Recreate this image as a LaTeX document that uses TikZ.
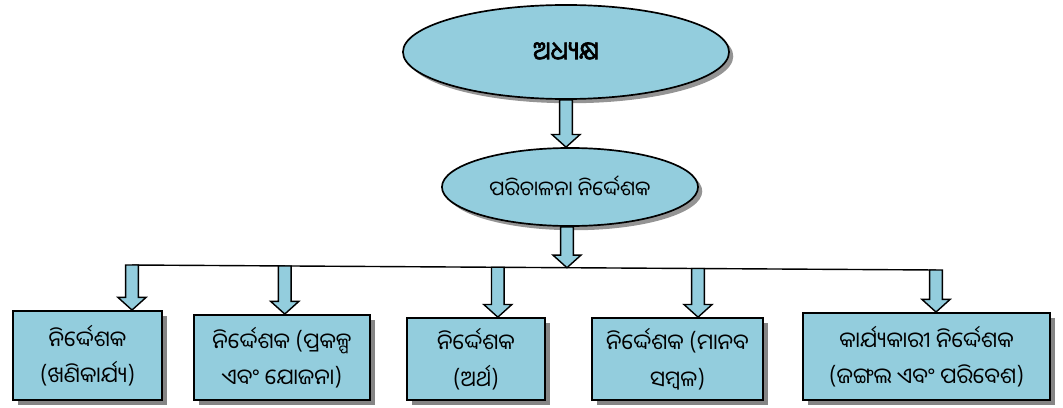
\documentclass[tikz,border=0pt]{standalone}
\usepackage{fontspec}
\usetikzlibrary{shapes.geometric,shadows,calc}

\newfontfamily\odia[Script=Oriya]{Noto Sans Oriya UI}
\newfontfamily\odiabf[Script=Oriya,FakeBold=2.5]{Noto Sans Oriya UI}
\definecolor{boxblue}{RGB}{147,205,221}

\tikzset{
  oval/.style={ellipse, draw, line width=1.2pt, fill=boxblue,
    drop shadow={shadow xshift=3pt, shadow yshift=-3pt, fill=black!60, opacity=0.7},
    font=\odia\fontsize{14.5}{26}\selectfont},
  office/.style={rectangle, draw, line width=1.2pt, fill=boxblue, align=center,
    drop shadow={shadow xshift=3.5pt, shadow yshift=-3.5pt, fill=black!60, opacity=0.8},
    font=\odia\fontsize{15.5}{26}\selectfont},
  fatarrow/.style={draw, line width=1pt, fill=boxblue}
}

% vertical block arrow from #1 down to the height of #2
\newcommand{\blockarrow}[2]{%
  \draw[fatarrow] let \p1=(#1), \p2=(#2) in
    (\x1-4.5pt,\y1) -- (\x1-4.5pt,\y2+9pt) -- (\x1-10pt,\y2+9pt) -- (\x1,\y2)
    -- (\x1+10pt,\y2+9pt) -- (\x1+4.5pt,\y2+9pt) -- (\x1+4.5pt,\y1) -- cycle;}

\begin{document}
\begin{tikzpicture}[x=0.025cm, y=-0.025cm]
  \useasboundingbox (0,0) rectangle (1063,407);

  % Chief and managing director
  \node[oval, minimum width=8.15cm, minimum height=2.35cm,
        font=\odiabf\fontsize{18}{24}\selectfont] (chief) at (566,52) {ଅଧ୍ୟକ୍ଷ};
  \node[oval, minimum width=6.4cm, minimum height=1.95cm] (md) at (570,187) {ପରିଚାଳନା ନିର୍ଦ୍ଦେଶକ};

  % Directors row
  \node[office, minimum width=3.73cm, minimum height=2.23cm] (mining) at (87.5,355.5) {ନିର୍ଦ୍ଦେଶକ\\(ଖଣିକାର୍ଯ୍ୟ)};
  \node[office, minimum width=4.4cm, minimum height=2.13cm] (plan) at (282,357.5) {ନିର୍ଦ୍ଦେଶକ (ପ୍ରକଳ୍ପ\\ଏବଂ ଯୋଜନା)};
  \node[office, minimum width=3.45cm, minimum height=2.05cm] (fin) at (476,359) {ନିର୍ଦ୍ଦେଶକ\\(ଅର୍ଥ)};
  \node[office, minimum width=4.28cm, minimum height=2.05cm] (hr) at (677.5,359) {ନିର୍ଦ୍ଦେଶକ (ମାନବ\\ସମ୍ବଳ)};
  \node[office, minimum width=6.18cm, minimum height=2.18cm] (forest) at (926.5,356.5) {କାର୍ଯ୍ୟକାରୀ ନିର୍ଦ୍ଦେଶକ\\(ଜଙ୍ଗଲ ଏବଂ ପରିବେଶ)};

  % Bus line
  \coordinate (busL) at (132,265);
  \coordinate (busR) at (936,270);
  \coordinate (busM) at ($(busL)!0.541!(busR)$);
  \coordinate (mdfoot) at (busM |- md.south);
  \draw[line width=1pt] (busL) -- (busR);

  % Arrows
  \blockarrow{chief.south}{md.north}
  \blockarrow{mdfoot}{busM}
  \foreach \f/\unit in {0/mining, 0.19/plan, 0.455/fin, 0.704/hr, 1/forest} {
    \blockarrow{$(busL)!\f!(busR)$}{\unit.north}
  }
\end{tikzpicture}
\end{document}
